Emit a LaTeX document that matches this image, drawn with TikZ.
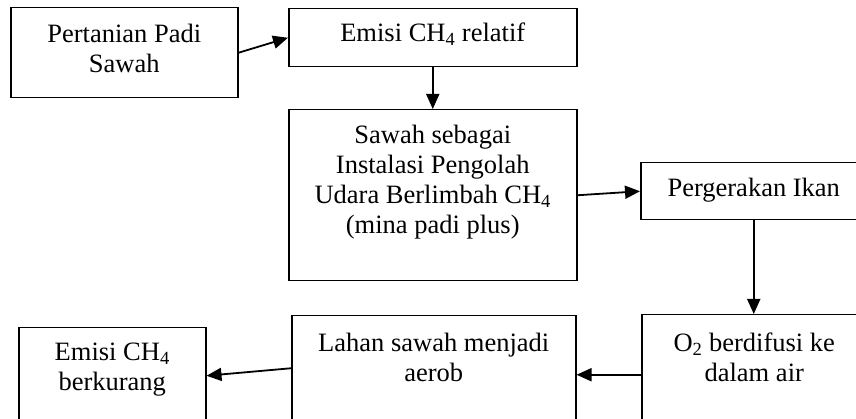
\documentclass[tikz,border=0pt]{standalone}
\usepackage{fontspec}
\setmainfont{Liberation Serif}
\usetikzlibrary{arrows.meta,calc}

\begin{document}
\begin{tikzpicture}[x=1pt,y=-1pt,
		kotak/.style={draw, rectangle, line width=1.5pt, anchor=north west, align=center, inner ysep=0pt, font=\fontsize{26.5}{30}\selectfont},
		panah/.style={line width=1.8pt, -{Triangle[length=15pt,width=13pt]}}]
	\clip (0,0) rectangle (856,419);
	
	% Baris atas
	\node[kotak, minimum width=227pt, text height=65pt, text depth=25pt] (tani) at (10,7) {Pertanian Padi\\Sawah};
	\node[kotak, minimum width=288pt, text height=33pt, text depth=25pt] (emisi) at (288,8) {Emisi CH\textsubscript{4} relatif};
	
	% Tengah
	\node[kotak, minimum width=288pt, text height=124pt, text depth=47pt] (sawah) at (288,109) {Sawah sebagai\\Instalasi Pengolah\\Udara Berlimbah CH\textsubscript{4}\\(mina padi plus)};
	\node[kotak, minimum width=226pt, text height=34pt, text depth=23pt] (ikan) at (640,162) {Pergerakan Ikan};
	
	% Baris bawah
	\node[kotak, minimum width=225pt, text height=67pt, text depth=53pt] (oksigen) at (641,314) {O\textsubscript{2} berdifusi ke\\dalam air};
	\node[kotak, minimum width=284pt, text height=66pt, text depth=53pt] (aerob) at (291,315) {Lahan sawah menjadi\\aerob};
	\node[kotak, minimum width=187pt, text height=63pt, text depth=33pt] (kurang) at (18,327) {Emisi CH\textsubscript{4}\\berkurang};
	
	% Panah
	\draw[panah] (tani.east) -- (emisi.west);
	\draw[panah] (emisi.south) -- (sawah.north);
	\draw[panah] (sawah.east) -- (ikan.west);
	\draw[panah] (ikan.south) -- (ikan.south |- oksigen.north);
	\draw[panah] (oksigen.west) -- (aerob.east |- oksigen.west);
	\draw[panah] ([yshift=7pt]aerob.west) -- (kurang.east);
\end{tikzpicture}
\end{document}
